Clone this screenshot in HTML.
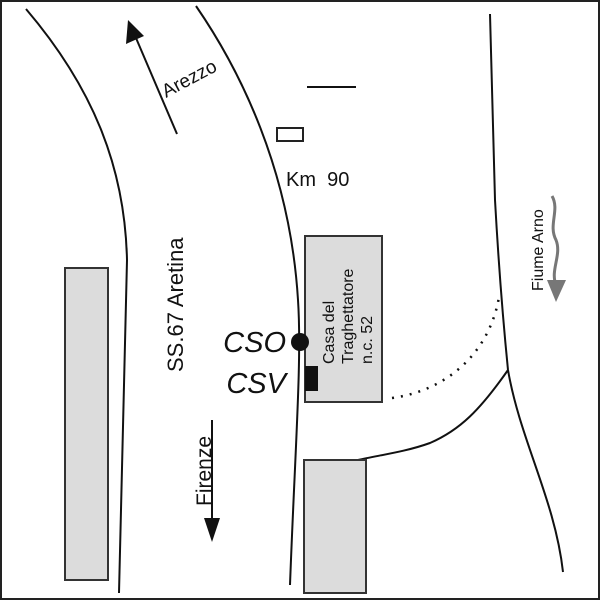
<!DOCTYPE html>
<html><head><style>
html,body{margin:0;padding:0;background:#fff}
svg{display:block}
text{font-family:"Liberation Sans",Arial,sans-serif;fill:#111}
</style></head><body>
<svg width="600" height="600" viewBox="0 0 600 600" xmlns="http://www.w3.org/2000/svg">
<rect x="1" y="1" width="598" height="598" fill="#fff" stroke="#222" stroke-width="2"/>
<g fill="none" stroke="#111" stroke-width="2">
<path d="M26,9 C95,90 125,170 127,260 L119,593"/>
<path d="M196,6 C240,70 290,170 298,300 C302,360 295,450 290,585"/>
<path d="M490,14 L495,200 C500,290 505,340 508,370 C520,440 555,500 563,572"/>
<path d="M508,370 C480,410 460,430 430,443 C405,452 380,455 358,460"/>
<path d="M392,398 C450,390 490,350 499,297" stroke-dasharray="2,7" stroke-width="2.5"/>
<line x1="307" y1="87" x2="356" y2="87"/>
<line x1="177" y1="134" x2="136" y2="38"/>
<line x1="212" y1="420" x2="212" y2="520"/>
</g>
<polygon points="128,20 126,44 144,36" fill="#111"/>
<polygon points="212,542 204,518 220,518" fill="#111"/>
<rect x="65" y="268" width="43" height="312" fill="#dcdcdc" stroke="#333" stroke-width="2"/>
<rect x="305" y="236" width="77" height="166" fill="#dcdcdc" stroke="#333" stroke-width="2"/>
<rect x="304" y="460" width="62" height="133" fill="#dcdcdc" stroke="#333" stroke-width="2"/>
<rect x="277" y="128" width="26" height="13" fill="#fff" stroke="#222" stroke-width="2"/>
<rect x="305" y="366" width="13" height="25" fill="#111"/>
<circle cx="300" cy="342" r="9" fill="#111"/>
<text font-size="19" transform="translate(166,98) rotate(-28)">Arezzo</text>
<text x="286" y="186" font-size="20" xml:space="preserve">Km  90</text>
<text font-size="22" transform="translate(183,372) rotate(-90)">SS.67 Aretina</text>
<text font-size="21" transform="translate(211,506) rotate(-90)">Firenze</text>
<text x="286" y="352" font-size="29" font-style="italic" text-anchor="end">CSO</text>
<text x="286" y="393" font-size="29" font-style="italic" text-anchor="end">CSV</text>
<text font-size="16" transform="translate(334,364) rotate(-90)">Casa del</text>
<text font-size="16" transform="translate(353,364) rotate(-90)">Traghettatore</text>
<text font-size="16" transform="translate(372,364) rotate(-90)">n.c. 52</text>
<text font-size="16" transform="translate(543,291) rotate(-90)">Fiume Arno</text>
<path d="M552,196 C560,210 548,225 556,240 C562,255 550,270 556,285" fill="none" stroke="#777" stroke-width="3"/>
<polygon points="556,302 547,280 566,280" fill="#777"/>
</svg>
</body></html>
